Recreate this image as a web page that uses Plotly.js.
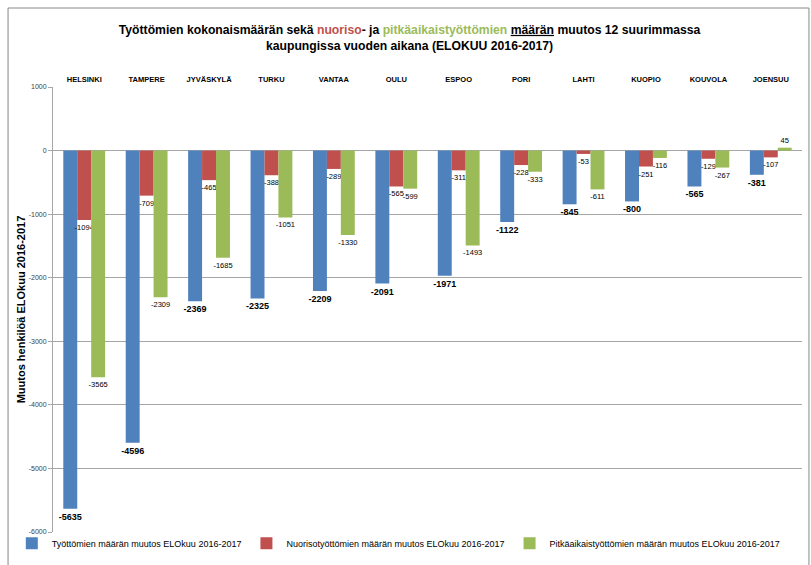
<!DOCTYPE html>
<html><head><meta charset="utf-8">
<script src="https://cdn.plot.ly/plotly-3.0.1.min.js"></script>
<style>html,body{margin:0;padding:0;background:#fff}#c{width:811px;height:565px}</style>
</head><body><div id="c"></div>
<script>
var cities = ["HELSINKI","TAMPERE","JYVÄSKYLÄ","TURKU","VANTAA","OULU","ESPOO","PORI","LAHTI","KUOPIO","KOUVOLA","JOENSUU"];
var total = [-5635,-4596,-2369,-2325,-2209,-2091,-1971,-1122,-845,-800,-565,-381];
var youth = [-1094,-709,-465,-388,-289,-565,-311,-228,-53,-251,-129,-107];
var longTerm = [-3565,-2309,-1685,-1051,-1330,-599,-1493,-333,-611,-116,-267,45];
var names = ["Työttömien määrän muutos ELOkuu 2016-2017","Nuorisotyöttömien määrän muutos ELOkuu 2016-2017","Pitkäaikaistyöttömien määrän muutos ELOkuu 2016-2017"];
var yTicks = [1000,0,-1000,-2000,-3000,-4000,-5000,-6000];

var FONT = "Liberation Sans, Arial, sans-serif";
function tr(y, name, color, tmpl, size){
  return {type:'bar', x:cities, y:y, name:name, marker:{color:color},
    text:y.map(String), texttemplate:tmpl, textposition:'outside', constraintext:'none', cliponaxis:false,
    textfont:{family:FONT, size:size, color:'#000'}, hoverinfo:'y'};
}
var data = [
  tr(total, names[0], '#4f81bd', '<b>%{text}</b>', 9),
  tr(youth, names[1], '#c0504d', '%{text}', 7.5),
  tr(longTerm, names[2], '#9bbb59', '%{text}', 7.5)
];
var title = 'Työttömien kokonaismäärän sekä <span style="color:#c0504d">nuoriso</span>- ja <span style="color:#9bbb59">pitkäaikaistyöttömien</span> <span style="text-decoration:underline">määrän</span> muutos 12 suurimmassa<br>kaupungissa vuoden aikana (ELOKUU 2016-2017)';
var layout = {
  width:811, height:565,
  margin:{l:53, r:9, t:87, b:33, autoexpand:false},
  paper_bgcolor:'#fff', plot_bgcolor:'#fff',
  barmode:'group', bargap:0.33, bargroupgap:0,
  title:{text:'<b>'+title+'</b>', font:{family:FONT, size:12.2, color:'#000'}, x:0.505, xanchor:'center', y:0.94, yanchor:'middle'},
  xaxis:{side:'top', type:'category', showgrid:false, showline:false, ticks:'', fixedrange:true, automargin:false,
    tickfont:{family:FONT, size:7.5, color:'#000'}, tickprefix:'<b>', ticksuffix:'</b>', ticklabelstandoff:3},
  yaxis:{range:[-6000,1000], tickvals:yTicks, ticktext:yTicks.map(String), showgrid:true, gridcolor:'#a6a6a6', gridwidth:1, automargin:false,
    zeroline:true, zerolinecolor:'#a6a6a6', zerolinewidth:1.5, showline:true, linecolor:'#a6a6a6', ticks:'outside', ticklen:4, tickcolor:'#a6a6a6',
    tickfont:{family:FONT, size:7, color:'#404040'},
    title:{text:'<b>Muutos henkilöä ELOkuu 2016-2017</b>', font:{family:FONT, size:11, color:'#000'}, standoff:0}},
  showlegend:true,
  legend:{orientation:'h', x:-0.055, xanchor:'left', y:-0.025, yanchor:'middle', font:{family:FONT, size:9, color:'#000'},
    itemwidth:30, tracegroupgap:0, bgcolor:'rgba(0,0,0,0)'},
  shapes:[{type:'rect', xref:'paper', yref:'paper', x0:-0.060, x1:1.0093, y0:-0.09, y1:1.1775, line:{color:'#888', width:1}}]
};
Plotly.newPlot('c', data, layout, {displayModeBar:false, staticPlot:true});
</script></body></html>
